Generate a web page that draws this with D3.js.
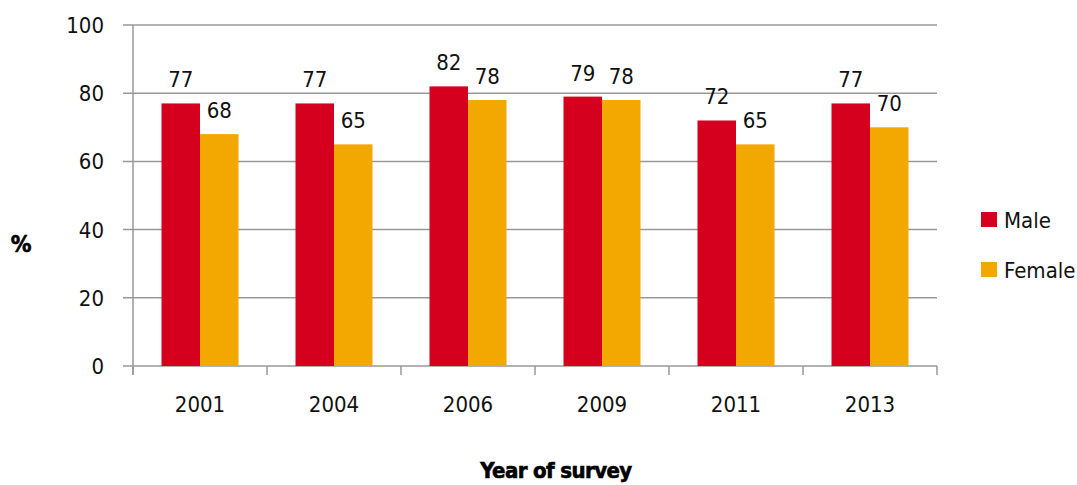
<!doctype html>
<html lang="en">
<head>
<meta charset="UTF-8">
<title>Year of survey - Male / Female</title>
<script src="https://d3js.org/d3.v7.min.js"></script>
<style>
  body { margin: 0; background: #fff; }
  svg { display: block; font-family: "DejaVu Sans Condensed", "DejaVu Sans", sans-serif; }
  .grid line { stroke: #999; stroke-width: 1.5; }
</style>
</head>
<body>
<svg id="chart" width="1077" height="485"></svg>
<script>
// data
const years = ["2001", "2004", "2006", "2009", "2011", "2013"];
const male = [77, 77, 82, 79, 72, 77];
const female = [68, 65, 78, 78, 65, 70];
const series = ["Male", "Female"];
const yTicks = [0, 20, 40, 60, 80, 100];

const COLORS = { Male: "#d4001e", Female: "#f2a800" };

const svg = d3.select("#chart");
const plotLeft = 133, plotRight = 937, plotTop = 25, plotBottom = 366;

const x = d3.scaleBand().domain(years).range([plotLeft, plotRight]);
const y = d3.scaleLinear().domain([0, 100]).range([plotBottom, plotTop]);
const inner = d3.scaleBand().domain(series).range([0, 77]);

// gridlines with small ticks on the left
const grid = svg.append("g").attr("class", "grid");
grid.selectAll("line").data(yTicks).join("line")
    .attr("x1", plotLeft - 10).attr("x2", plotRight)
    .attr("y1", d => y(d)).attr("y2", d => y(d));

// y axis line + labels
svg.append("line").attr("x1", plotLeft).attr("x2", plotLeft).attr("y1", plotTop).attr("y2", plotBottom + 9)
    .style("stroke", "#999").style("stroke-width", 1.5);
svg.append("g").selectAll("text").data(yTicks).join("text")
    .attr("x", 104).attr("y", d => y(d)).attr("dy", "0.36em")
    .attr("text-anchor", "end").style("font-size", "22px").style("fill", "#111")
    .text(d => d);

// x axis ticks at band boundaries
const bounds = years.map(d => x(d)).concat([plotRight]);
svg.append("g").selectAll("line").data(bounds).join("line")
    .attr("x1", d => d).attr("x2", d => d).attr("y1", plotBottom).attr("y2", plotBottom + 9)
    .style("stroke", "#999").style("stroke-width", 1.5);
svg.append("g").selectAll("text").data(years).join("text")
    .attr("x", d => x(d) + x.bandwidth() / 2).attr("y", 412)
    .attr("text-anchor", "middle").style("font-size", "22px").style("fill", "#111")
    .text(d => d);

// bars
const rows = [];
years.forEach((yr, i) => {
    rows.push({ year: yr, s: "Male", v: male[i] });
    rows.push({ year: yr, s: "Female", v: female[i] });
});
const off = (x.bandwidth() - 77) / 2;
svg.append("g").selectAll("rect").data(rows).join("rect")
    .attr("x", d => x(d.year) + off + inner(d.s))
    .attr("width", inner.bandwidth())
    .attr("y", d => y(d.v)).attr("height", d => y(0) - y(d.v))
    .style("fill", d => COLORS[d.s]);

svg.append("g").selectAll("text").data(rows).join("text")
    .attr("x", d => x(d.year) + off + inner(d.s) + inner.bandwidth() / 2)
    .attr("y", d => y(d.v) - 16)
    .attr("text-anchor", "middle").style("font-size", "22px").style("fill", "#111")
    .text(d => d.v);

// legend
const lg = svg.append("g").selectAll("g").data(series).join("g")
    .attr("transform", (d, i) => `translate(981, ${212 + i * 50})`);
lg.append("rect").attr("width", 16).attr("height", 15).style("fill", d => COLORS[d]);
lg.append("text").attr("x", 23).attr("y", 16).style("font-size", "22px").style("fill", "#111").text(d => d);

// axis titles
svg.append("text").attr("x", 21).attr("y", 252).attr("text-anchor", "middle")
    .style("font-size", "23px").style("font-weight", "900").style("stroke", "#000").style("stroke-width", 0.6)
    .text("%");
svg.append("text").attr("x", 556).attr("y", 478).attr("text-anchor", "middle")
    .style("font-size", "22px").style("font-weight", "900").style("letter-spacing", "-0.6px")
    .style("stroke", "#000").style("stroke-width", 0.6)
    .text("Year of survey");
</script>
</body>
</html>
